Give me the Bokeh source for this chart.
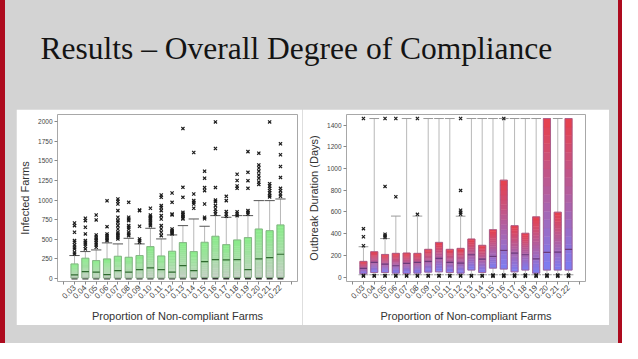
import math
from bokeh.plotting import figure
from bokeh.layouts import column, row
from bokeh.models import Range1d, FixedTicker, Spacer
from bokeh.embed import file_html
from bokeh.resources import INLINE
from bokeh.core.properties import value

# ---------------- data ----------------
title_text = "Results \u2013 Overall Degree of Compliance"
cats = ["0.03", "0.04", "0.05", "0.06", "0.07", "0.08", "0.09", "0.10", "0.11", "0.12",
        "0.13", "0.14", "0.15", "0.16", "0.17", "0.18", "0.19", "0.20", "0.21", "0.22"]

# Infected farms
inf_lo = [0] * 20
inf_q1 = [2, 2, 2, 2, 2, 2, 2, 2, 2, 2, 5, 5, 10, 10, 10, 10, 10, 10, 10, 10]
inf_med = [43, 85, 77, 47, 98, 77, 111, 132, 111, 77, 162, 98, 213, 239, 234, 239, 111, 247, 264, 307]
inf_q3 = [183, 256, 226, 247, 281, 268, 290, 405, 285, 345, 456, 341, 460, 537, 430, 490, 520, 630, 609, 682]
inf_hi = [290, 341, 362, 452, 439, 511, 439, 639, 503, 554, 673, 758, 665, 801, 780, 801, 801, 993, 993, 1014]
inf_out = [
    [311, 332, 375, 396, 426, 460, 481, 588, 673, 707],
    [375, 409, 439, 460, 481, 567, 652, 737, 767],
    [396, 426, 452, 481, 503, 524, 554, 746, 809],
    [481, 503, 524, 545, 567, 660, 990],
    [503, 524, 545, 567, 588, 630, 673, 716, 737, 780, 865, 950, 984, 1014],
    [545, 567, 588, 630, 652, 673, 737, 758, 780, 971],
    [460, 481, 503, 665, 865, 873],
    [673, 694, 716, 737, 758, 775, 792, 809, 895],
    [545, 588, 630, 673, 758, 801, 865, 905, 929, 1035, 1065],
    [567, 580, 592, 610, 630, 810, 822, 971, 1090],
    [758, 771, 792, 809, 822, 843, 1035, 1163, 1915],
    [895, 950, 971, 993, 1078, 1609],
    [760, 780, 950, 1120, 1160, 1280, 1370],
    [822, 852, 886, 929, 980, 1000, 1160, 1660, 2000],
    [792, 822, 852, 993, 1048],
    [800, 822, 850, 1150, 1180, 1250, 1330],
    [822, 843, 865, 1150, 1248, 1355, 1620],
    [1200, 1230, 1280, 1320, 1370, 1410, 1450, 1600],
    [1040, 1060, 1090, 1120, 1150, 1180, 1210, 2000],
    [1050, 1080, 1120, 1150, 1290, 1430, 1580, 1720],
]

# Outbreak duration (days)
dur_lo = [22] * 20
dur_q1 = [31, 43, 43, 37, 34, 37, 46, 49, 43, 37, 65, 43, 83, 74, 49, 65, 37, 65, 65, 65]
dur_med = [80, 136, 120, 105, 126, 136, 145, 172, 136, 129, 206, 166, 191, 246, 222, 206, 169, 228, 231, 256]
dur_q3 = [145, 234, 209, 219, 222, 219, 256, 320, 256, 265, 351, 293, 437, 893, 474, 404, 555, 1460, 598, 1460]
dur_hi = [280, 1460, 355, 562, 1460, 562, 1460, 1460, 1460, 561, 1460, 1460, 1460, 1460, 1460, 1460, 1460, 1460, 1460, 1460]
dur_out = [
    [289, 372, 446, 1460], [], [365, 380, 395, 835, 1460], [740, 1460], [],
    [578, 1460], [], [], [], [580, 598, 616, 798, 1460],
    [], [], [], [1460], [], [], [], [], [], [],
]
dur_low_out = [[10, 14]] * 12 + [[8, 14, 20]] * 8

inf_yticks = [0, 250, 500, 750, 1000, 1250, 1500, 1750, 2000]
dur_yticks = [0, 200, 400, 600, 800, 1000, 1200, 1400]

# ---------------- styling ----------------
RED = "#ad0a1e"
GRAY = "#d3d3d3"
SANS = "Liberation Sans"


def hex2rgb(h):
    h = h.lstrip("#")
    return tuple(int(h[i:i + 2], 16) for i in (0, 2, 4))


def mix(c1, c2, t):
    a, b = hex2rgb(c1), hex2rgb(c2)
    return "#%02x%02x%02x" % tuple(int(round(a[i] + (b[i] - a[i]) * t)) for i in range(3))


def box_panel(width, height, mb_l, mb_r, mb_t, mb_b, yr, yticks, ylabel,
              lo, q1, med, q3, hi, outs, low_outs, bot_col, top_col, edge_col, med_col,
              cap_col, cap_w, lo_cap_col, lo_cap_w, lo_cap_lw):
    p = figure(width=width, height=height, x_range=Range1d(-0.57, 21.57), y_range=Range1d(*yr),
               toolbar_location=None, output_backend="svg", title=None,
               min_border_left=mb_l, min_border_right=mb_r, min_border_top=mb_t, min_border_bottom=mb_b)
    p.grid.visible = False
    p.background_fill_color = "white"
    p.border_fill_color = "white"
    p.outline_line_color = "#a8a8a8"
    xs = list(range(1, 21))
    bw = 0.66
    # whiskers
    wx, wy0, wy1 = [], [], []
    for x, a, b in zip(xs, q3, hi):
        if b > a:
            wx.append(x); wy0.append(a); wy1.append(b)
    p.segment(x0=wx, y0=wy0, x1=wx, y1=wy1, line_color="#b8b8b8", line_width=1)
    p.segment(x0=xs, y0=lo, x1=xs, y1=q1, line_color="#b8b8b8", line_width=1)
    # caps
    p.segment(x0=[x - cap_w / 2 for x in wx], y0=wy1, x1=[x + cap_w / 2 for x in wx], y1=wy1,
              line_color=cap_col, line_width=1)
    p.segment(x0=[x - lo_cap_w / 2 for x in xs], y0=lo, x1=[x + lo_cap_w / 2 for x in xs], y1=lo,
              line_color=lo_cap_col, line_width=lo_cap_lw)
    # gradient boxes
    n = 18
    L, R, B, T, C = [], [], [], [], []
    for x, a, b in zip(xs, q1, q3):
        for j in range(n):
            L.append(x - bw / 2); R.append(x + bw / 2)
            B.append(a + (b - a) * j / n); T.append(a + (b - a) * (j + 1) / n)
            C.append(mix(bot_col, top_col, (j + 0.5) / n))
    p.quad(left=L, right=R, bottom=B, top=T, fill_color=C, line_color=C, line_width=0.5)
    p.quad(left=[x - bw / 2 for x in xs], right=[x + bw / 2 for x in xs], bottom=q1, top=q3,
           fill_color=None, line_color=edge_col, line_width=0.8)
    p.segment(x0=[x - bw / 2 for x in xs], y0=med, x1=[x + bw / 2 for x in xs], y1=med,
              line_color=med_col, line_width=1.2)
    # outliers
    ox, oy = [], []
    for x, vals in zip(xs, outs):
        for v in vals:
            ox.append(x); oy.append(v)
    for x, vals in zip(xs, low_outs):
        for v in vals:
            ox.append(x); oy.append(v)
    p.scatter(ox, oy, marker="x", size=4.5, line_color="#1c1c1c", line_width=1.2)

    # axes
    p.xaxis.ticker = FixedTicker(ticks=list(range(0, 22)))
    ov = {0: "", 21: ""}
    for i, c in enumerate(cats):
        ov[i + 1] = c
    p.xaxis.major_label_overrides = ov
    p.xaxis.major_label_orientation = math.pi / 4
    p.xaxis.major_label_text_font_size = "8px"
    p.yaxis.ticker = FixedTicker(ticks=yticks)
    p.yaxis.major_label_text_font_size = "6.5px"
    p.axis.major_label_text_font = SANS
    p.axis.major_label_text_color = "#444444"
    p.axis.major_label_standoff = 2
    p.axis.axis_line_color = None
    p.axis.major_tick_line_color = "#888888"
    p.axis.major_tick_out = 3
    p.axis.major_tick_in = 0
    p.axis.minor_tick_line_color = None
    p.xaxis.axis_label = "Proportion of Non-compliant Farms"
    p.yaxis.axis_label = ylabel
    p.axis.axis_label_text_font = SANS
    p.axis.axis_label_text_font_size = "11px"
    p.axis.axis_label_text_font_style = "normal"
    p.axis.axis_label_text_color = "#333333"
    p.xaxis.axis_label_standoff = 6
    p.yaxis.axis_label_standoff = 4
    return p


# top band: transparent figure carrying the slide title
top = figure(width=622, height=109, x_range=Range1d(8, 630), y_range=Range1d(117, 8),
             toolbar_location=None, output_backend="svg", title=None,
             x_axis_location=None, y_axis_location=None, min_border=0)
top.grid.visible = False
top.outline_line_color = None
top.background_fill_alpha = 0
top.border_fill_alpha = 0
top.text(x=[48], y=[56], text=[title_text], text_font=value("Liberation Serif"),
         text_font_size="31.5px", text_baseline="alphabetic", text_align="left", text_color="#141414")

p1 = box_panel(286, 216, 41, 5, 5, 43, (-42, 2095), inf_yticks, "Infected Farms",
               inf_lo, inf_q1, inf_med, inf_q3, inf_hi, inf_out, [[] for _ in cats],
               "#c6d0c6", "#88ec88", "#7fa87f", "#2f6a2f", "#555555", 0.95, "#333333", 0.55, 2.5)
p2 = box_panel(307, 216, 44, 24, 5, 44, (-40, 1497), dur_yticks, "Outbreak Duration (Days)",
               dur_lo, dur_q1, dur_med, dur_q3, dur_hi, dur_out, dur_low_out,
               "#7c7ef4", "#e8404c", "#a05a8a", "#6a3a7a", "#999999", 0.9, "#999999", 0.9, 1)

mid = row(Spacer(width=16, height=216), p1, p2, Spacer(width=13, height=216), spacing=0)
layout = column(top, mid, Spacer(width=622, height=18), spacing=0,
                styles={"background-color": GRAY,
                        "box-shadow": "inset 5px 0 0 %s, inset -4px 0 0 %s" % (RED, RED)})
open("out.html", "w").write(file_html(layout, INLINE))
